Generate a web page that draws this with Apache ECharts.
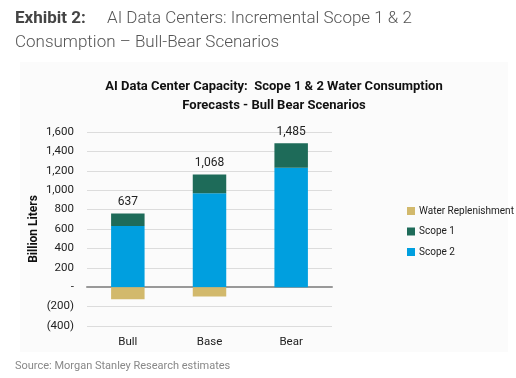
<!DOCTYPE html>
<html>
<head>
<meta charset="utf-8">
<script src="https://cdn.jsdelivr.net/npm/echarts@6/dist/echarts.min.js"></script>
<style>
html,body{margin:0;padding:0;background:#fff;}
#chart{width:516px;height:378px;}
</style>
</head>
<body>
<div id="chart"></div>
<script>
const categories = ['Bull', 'Base', 'Bear'];
const scope2 = [630, 968, 1231];
const scope1 = [130, 195, 254];
const replenishment = [-123, -95, 0];
const netTotals = [637, 1068, 1485];
const yTicks = { min: -400, max: 1600, interval: 200 };

function fmtTick(v) {
  if (v === 0) return '-';
  const s = Math.abs(v).toLocaleString('en-US');
  return v < 0 ? '(' + s + ')' : s;
}

const font = 'Roboto';
const chart = echarts.init(document.getElementById('chart'), null, { renderer: 'canvas' });
const txt = '#222';
chart.setOption({
  backgroundColor: '#fff',
  animation: false,
  graphic: [
    { type: 'rect', z: -10, shape: { x: 20, y: 62, width: 488, height: 290 }, style: { fill: '#fbfbfb' } },
    { type: 'text', left: 15, top: 10, style: { text: 'Exhibit 2:', font: 'bold 17px Roboto', fill: '#444' } },
    { type: 'text', left: 107, top: 10, style: { text: 'AI Data Centers: Incremental Scope 1 & 2', font: '300 17px Roboto', fill: '#555' } },
    { type: 'text', left: 15, top: 34, style: { text: 'Consumption \u2013 Bull-Bear Scenarios', font: '300 17px Roboto', fill: '#555' } },
    { type: 'text', left: 15, top: 361, style: { text: 'Source: Morgan Stanley Research estimates', font: '11px Roboto', fill: '#888' } }
  ],
  title: {
    text: 'AI Data Center Capacity:  Scope 1 & 2 Water Consumption\nForecasts - Bull Bear Scenarios',
    left: 269, top: 72, textAlign: 'center',
    textStyle: { fontFamily: 'Roboto', fontWeight: 'bold', fontSize: 13, color: '#111', lineHeight: 19 }
  },
  legend: {
    orient: 'vertical', left: 402, top: 201, itemWidth: 8, itemHeight: 8, itemGap: 10.5,
    padding: [5, 0, 5, 5],
    icon: 'rect',
    data: ['Water Replenishment', 'Scope 1', 'Scope 2'],
    textStyle: { fontFamily: font, fontSize: 10, color: txt, padding: [0, 0, 0, -1] }
  },
  grid: { left: 87, right: 184, top: 132, bottom: 52 },
  xAxis: {
    type: 'category', data: categories,
    axisLine: { onZero: true, lineStyle: { color: '#999', width: 2 } },
    axisTick: { show: false },
    axisLabel: { fontFamily: font, fontSize: 11.5, color: txt, margin: 10, interval: 0 }
  },
  yAxis: {
    type: 'value', min: yTicks.min, max: yTicks.max, interval: yTicks.interval,
    name: 'Billion Liters', nameLocation: 'middle', nameGap: 47, nameRotate: 90,
    nameTextStyle: { fontFamily: font, fontWeight: 'bold', fontSize: 12, color: '#111' },
    axisLine: { show: false }, axisTick: { show: false },
    splitLine: { lineStyle: { color: '#dcdcdc', width: 1 } },
    axisLabel: { fontFamily: font, fontSize: 11.5, color: txt, margin: 13, formatter: fmtTick }
  },
  series: [
    { name: 'Scope 2', type: 'bar', stack: 'a', data: scope2, barWidth: '41%',
      itemStyle: { color: '#009fdf' } },
    { name: 'Scope 1', type: 'bar', stack: 'a', data: scope1, barWidth: '41%',
      itemStyle: { color: '#1e6b59' },
      label: { show: true, position: 'top', distance: 5, fontFamily: 'Roboto', fontSize: 12, color: txt,
        formatter: p => netTotals[p.dataIndex].toLocaleString('en-US') } },
    { name: 'Water Replenishment', type: 'bar', stack: 'a', data: replenishment, barWidth: '41%',
      itemStyle: { color: '#d2b96c' } }
  ]
});
</script>
</body>
</html>
